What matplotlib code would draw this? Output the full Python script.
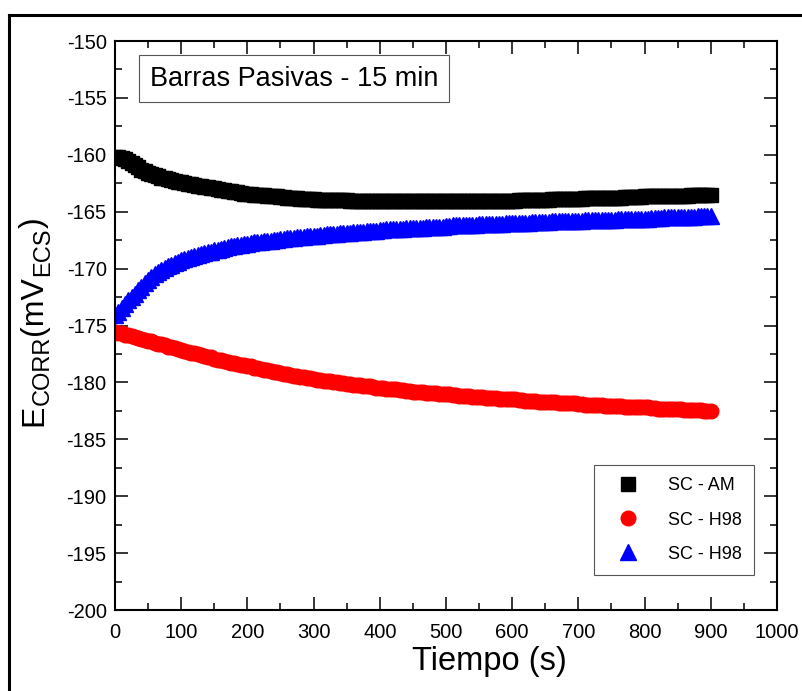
import numpy as np
import matplotlib.pyplot as plt
from matplotlib.lines import Line2D

plt.rcParams['font.family'] = ['Liberation Sans', 'DejaVu Sans']
plt.rcParams['axes.unicode_minus'] = False

# tiempo (s), un punto cada 5 s
t = np.arange(0, 905, 5)

sc_am = [-160.2, -160.2, -160.3, -160.4, -160.5, -160.7, -160.9, -161.1, -161.3, -161.45,
         -161.6, -161.7, -161.8, -161.9, -162.0, -162.05, -162.1, -162.2, -162.3, -162.35,
         -162.4, -162.5, -162.55, -162.6, -162.65, -162.7, -162.75, -162.8, -162.85, -162.9,
         -162.95, -163.0, -163.05, -163.1, -163.15, -163.2, -163.25, -163.3, -163.35, -163.4,
         -163.45, -163.45, -163.5, -163.5, -163.55, -163.55, -163.6, -163.6, -163.65, -163.65,
         -163.7, -163.7, -163.75, -163.75, -163.8, -163.8, -163.85, -163.85, -163.9, -163.9,
         -163.9, -163.95, -163.95, -163.95, -164.0, -164.0, -164.0, -164.0, -164.0, -164.0,
         -164.0, -164.05, -164.05, -164.05, -164.05, -164.05, -164.05, -164.05, -164.05, -164.1,
         -164.1, -164.1, -164.1, -164.1, -164.1, -164.1, -164.1, -164.1, -164.1, -164.1,
         -164.1, -164.1, -164.1, -164.1, -164.1, -164.1, -164.1, -164.1, -164.1, -164.1,
         -164.1, -164.1, -164.1, -164.1, -164.1, -164.1, -164.1, -164.1, -164.1, -164.1,
         -164.1, -164.1, -164.1, -164.1, -164.05, -164.05, -164.05, -164.05, -164.05, -164.05,
         -164.05, -164.05, -164.0, -164.0, -164.0, -164.0, -164.0, -164.0, -163.95, -163.95,
         -163.95, -163.95, -163.9, -163.9, -163.9, -163.9, -163.9, -163.9, -163.85, -163.85,
         -163.85, -163.85, -163.8, -163.8, -163.8, -163.8, -163.8, -163.8, -163.75, -163.75,
         -163.75, -163.75, -163.75, -163.75, -163.7, -163.7, -163.7, -163.7, -163.7, -163.7,
         -163.65, -163.65, -163.65, -163.65, -163.65, -163.65, -163.6, -163.6, -163.6, -163.6,
         -163.6, -163.6, -163.6, -163.6, -163.55, -163.55, -163.55, -163.55, -163.55, -163.55,
         -163.5]

sc_h98_a = [-175.6, -175.65, -175.7, -175.8, -175.85, -175.9, -176.0, -176.1, -176.2, -176.3,
            -176.35, -176.4, -176.5, -176.6, -176.65, -176.75, -176.85, -176.9, -177.0, -177.1,
            -177.15, -177.2, -177.3, -177.4, -177.45, -177.5, -177.6, -177.7, -177.75, -177.8,
            -177.9, -178.0, -178.05, -178.1, -178.2, -178.25, -178.3, -178.4, -178.45, -178.5,
            -178.55, -178.6, -178.7, -178.75, -178.8, -178.9, -178.95, -179.0, -179.05, -179.1,
            -179.2, -179.25, -179.3, -179.35, -179.4, -179.45, -179.5, -179.55, -179.6, -179.65,
            -179.7, -179.75, -179.8, -179.85, -179.9, -179.9, -179.95, -180.0, -180.05, -180.05,
            -180.1, -180.15, -180.2, -180.2, -180.25, -180.3, -180.35, -180.35, -180.4, -180.45,
            -180.5, -180.5, -180.55, -180.55, -180.6, -180.6, -180.65, -180.7, -180.75, -180.75,
            -180.8, -180.8, -180.85, -180.85, -180.9, -180.9, -180.95, -180.95, -181.0, -181.0,
            -181.05, -181.05, -181.1, -181.1, -181.15, -181.15, -181.2, -181.2, -181.25, -181.25,
            -181.3, -181.3, -181.35, -181.35, -181.4, -181.4, -181.45, -181.45, -181.5, -181.5,
            -181.5, -181.5, -181.55, -181.55, -181.6, -181.6, -181.65, -181.65, -181.7, -181.7,
            -181.7, -181.7, -181.75, -181.75, -181.8, -181.8, -181.85, -181.85, -181.85, -181.85,
            -181.9, -181.9, -181.95, -181.95, -181.95, -181.95, -182.0, -182.0, -182.05, -182.05,
            -182.05, -182.05, -182.1, -182.1, -182.15, -182.15, -182.15, -182.15, -182.2, -182.2,
            -182.2, -182.2, -182.25, -182.25, -182.3, -182.3, -182.3, -182.3, -182.35, -182.35,
            -182.35, -182.35, -182.4, -182.4, -182.4, -182.4, -182.45, -182.45, -182.5, -182.5,
            -182.5]

sc_h98_b = [-174.1, -173.8, -173.5, -173.15, -172.8, -172.5, -172.2, -171.9, -171.6, -171.3,
            -171.0, -170.75, -170.5, -170.3, -170.1, -169.95, -169.8, -169.65, -169.5, -169.4,
            -169.25, -169.15, -169.05, -168.95, -168.85, -168.8, -168.7, -168.6, -168.55, -168.5,
            -168.4, -168.35, -168.25, -168.2, -168.1, -168.05, -168.0, -167.95, -167.9, -167.85,
            -167.8, -167.75, -167.7, -167.7, -167.65, -167.6, -167.55, -167.55, -167.5, -167.45,
            -167.4, -167.4, -167.35, -167.35, -167.3, -167.25, -167.2, -167.2, -167.15, -167.15,
            -167.1, -167.1, -167.05, -167.05, -167.0, -167.0, -166.95, -166.95, -166.9, -166.9,
            -166.85, -166.85, -166.8, -166.8, -166.75, -166.75, -166.7, -166.7, -166.65, -166.65,
            -166.6, -166.6, -166.55, -166.55, -166.55, -166.55, -166.5, -166.5, -166.45, -166.45,
            -166.4, -166.4, -166.4, -166.4, -166.35, -166.35, -166.3, -166.3, -166.3, -166.3,
            -166.25, -166.25, -166.2, -166.2, -166.2, -166.2, -166.15, -166.15, -166.15, -166.15,
            -166.1, -166.1, -166.1, -166.1, -166.05, -166.05, -166.05, -166.05, -166.0, -166.0,
            -166.0, -166.0, -165.95, -165.95, -165.95, -165.95, -165.9, -165.9, -165.9, -165.9,
            -165.9, -165.9, -165.85, -165.85, -165.85, -165.85, -165.8, -165.8, -165.8, -165.8,
            -165.8, -165.8, -165.75, -165.75, -165.75, -165.75, -165.7, -165.7, -165.7, -165.7,
            -165.7, -165.7, -165.65, -165.65, -165.65, -165.65, -165.6, -165.6, -165.6, -165.6,
            -165.6, -165.6, -165.55, -165.55, -165.55, -165.55, -165.5, -165.5, -165.5, -165.5,
            -165.5, -165.5, -165.45, -165.45, -165.45, -165.45, -165.4, -165.4, -165.4, -165.4,
            -165.4]

labels = ['SC - AM', 'SC - H98', 'SC - H98']

fig = plt.figure(figsize=(8.03, 6.91), dpi=100)
ax = fig.add_axes([0.1432, 0.1172, 0.8244, 0.8234])

# marco exterior
fig.add_artist(Line2D([9/803, 1], [1 - 15/691, 1 - 15/691], color='black', lw=2.2))
fig.add_artist(Line2D([9/803, 9/803], [0, 1 - 15/691], color='black', lw=2.2))

ax.plot(t, sc_am, ls='none', marker='s', ms=10.5, color='black', mec='black', label=labels[0])
ax.plot(t, sc_h98_a, ls='none', marker='o', ms=10.5, color='red', mec='red', label=labels[1])
ax.plot(t, sc_h98_b, ls='none', marker='^', ms=11, color='blue', mec='blue', label=labels[2])

ax.set_xlim(0, 1000)
ax.set_ylim(-200, -150)
ax.set_xticks(np.arange(0, 1001, 100))
ax.set_yticks(np.arange(-200, -149, 5))
ax.set_xticks(np.arange(50, 1000, 100), minor=True)
ax.set_yticks(np.arange(-197.5, -150, 5), minor=True)
ax.tick_params(which='both', direction='in', top=True, right=True, labelsize=14.5, width=1.1)
ax.tick_params(which='major', length=9.5, pad=6)
ax.tick_params(which='minor', length=5)
ax.tick_params(axis='x', which='major', pad=9)
for s in ax.spines.values():
    s.set_linewidth(1.5)

ax.set_xlabel('Tiempo (s)', fontsize=23.5)
ax.xaxis.set_label_coords(0.565, -0.063)
ax.xaxis.label.set_va('top')

# etiqueta vertical E_CORR(mV_ECS) armada por partes, en pixeles
renderer = fig.canvas.get_renderer()
y_pos = 691 - 426
pieces = [('E', 23, 0), ('CORR', 17, 7), ('(mV', 23, 0), ('ECS', 17, 7), (')', 23, 0)]
for s, size, dx in pieces:
    txt = fig.text(42 + dx, y_pos, s, rotation=90, rotation_mode='anchor', fontsize=size,
                   ha='left', va='baseline', transform=None)
    y_pos += txt.get_window_extent(renderer).height

ax.text(0.053, 0.934, 'Barras Pasivas - 15 min', transform=ax.transAxes, fontsize=19.5,
        va='center', ha='left',
        bbox=dict(boxstyle='square,pad=0.4', fc='white', ec='#555555', lw=0.8))

leg = ax.legend(loc='lower right', bbox_to_anchor=(0.966, 0.061), fontsize=13, fancybox=False,
                edgecolor='#555555', framealpha=1, handletextpad=1.0, labelspacing=0.95,
                borderpad=0.7, handlelength=2.4, borderaxespad=0)
leg.get_frame().set_linewidth(0.8)

fig.savefig('out.png', dpi=100)
